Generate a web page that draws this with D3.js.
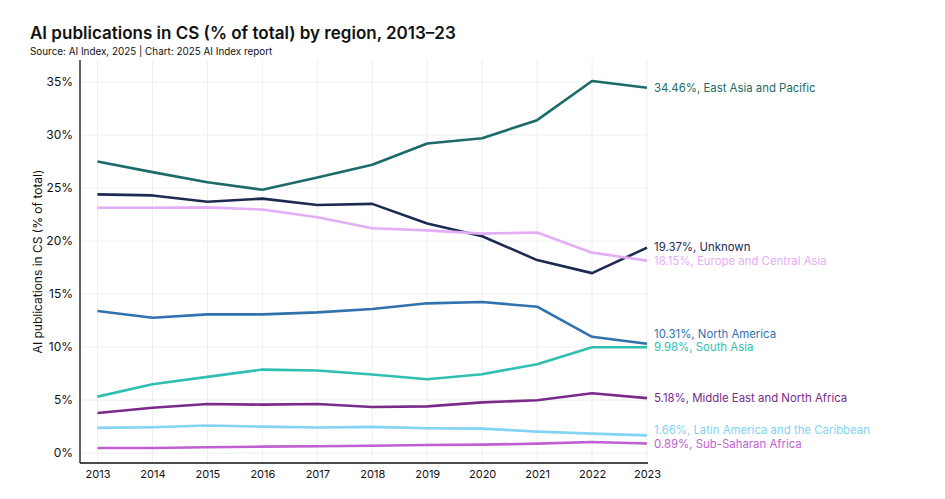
<!DOCTYPE html>
<html>
<head>
<meta charset="utf-8">
<script src="https://cdn.jsdelivr.net/npm/d3@7"></script>
<style>
  body { margin: 0; background: #fff; }
  svg { display: block; font-family: Inter, "Noto Sans", sans-serif; }
</style>
</head>
<body>
<svg id="viz"></svg>
<script>
// ---------------------------
// Data
// ---------------------------

const years = [2013, 2014, 2015, 2016, 2017, 2018, 2019, 2020, 2021, 2022, 2023];

const regions = [
    "East Asia and Pacific",
    "Unknown",
    "Europe and Central Asia",
    "North America",
    "South Asia",
    "Middle East and North Africa",
    "Latin America and the Caribbean",
    "Sub-Saharan Africa"
];

const eastAsia    = [27.5, 26.5, 25.55, 24.83, 26.0, 27.2, 29.2, 29.7, 31.4, 35.1, 34.46];
const unknown     = [24.4, 24.3, 23.7, 24.0, 23.4, 23.5, 21.65, 20.45, 18.2, 16.97, 19.37];
const europe      = [23.14, 23.14, 23.17, 22.97, 22.24, 21.2, 21.0, 20.7, 20.8, 18.9, 18.15];
const northAm     = [13.39, 12.76, 13.08, 13.08, 13.27, 13.58, 14.12, 14.24, 13.8, 10.96, 10.31];
const southAsia   = [5.32, 6.48, 7.18, 7.87, 7.78, 7.4, 6.96, 7.43, 8.38, 9.98, 9.98];
const middleEast  = [3.77, 4.27, 4.62, 4.56, 4.62, 4.34, 4.4, 4.78, 4.97, 5.63, 5.18];
const latinAm     = [2.37, 2.43, 2.59, 2.49, 2.4, 2.46, 2.33, 2.3, 2.02, 1.83, 1.66];
const subSaharan  = [0.47, 0.47, 0.54, 0.6, 0.63, 0.69, 0.76, 0.79, 0.88, 1.04, 0.89];

const seriesValues = [eastAsia, unknown, europe, northAm, southAsia, middleEast, latinAm, subSaharan];

const colors = ["#1c6b68", "#1d2a52", "#e4aef7", "#2f72ae", "#2fbfb1", "#7a2a8a", "#82d3f4", "#bf5fd0"];

const yTicks = [0, 5, 10, 15, 20, 25, 30, 35];

// ---------------------------
// Create SVG
// ---------------------------

const width = 945;
const height = 499;

const svg = d3.select("#viz")
    .attr("width", width)
    .attr("height", height)
    .attr("viewBox", `0 0 ${width} ${height}`);

const plotLeft = 80, plotRight = 648, plotTop = 60, plotBottom = 463;

const x = d3.scaleLinear()
    .domain([2013, 2023])
    .range([97.5, 647]);

const y = d3.scaleLinear()
    .domain([0, 35])
    .range([453, 82]);

// Title

svg.append("text")
    .attr("x", 30)
    .attr("y", 39)
    .attr("font-size", 17)
    .attr("font-weight", 600)
    .attr("fill", "#111")
    .text("AI publications in CS (% of total) by region, 2013–23");

svg.append("text")
    .attr("x", 30)
    .attr("y", 55)
    .attr("font-size", 9.9)
    .attr("fill", "#111")
    .text("Source: AI Index, 2025 | Chart: 2025 AI Index report");

// ---------------------------
// Grid and axes
// ---------------------------

const grid = svg.append("g");

grid.selectAll("line.v")
    .data(years)
    .join("line")
    .attr("class", "v")
    .attr("x1", d => x(d)).attr("x2", d => x(d))
    .attr("y1", plotTop).attr("y2", plotBottom)
    .attr("stroke", "#eceef2")
    .attr("stroke-width", 1);

grid.selectAll("line.h")
    .data(yTicks)
    .join("line")
    .attr("class", "h")
    .attr("x1", plotLeft).attr("x2", plotRight)
    .attr("y1", d => y(d)).attr("y2", d => y(d))
    .attr("stroke", "#eceef2")
    .attr("stroke-width", 1);

const yAxis = svg.append("g")
    .attr("transform", `translate(${plotLeft},0)`)
    .call(d3.axisLeft(y).tickValues(yTicks).tickSize(0).tickPadding(7).tickFormat(d => d + "%"));

yAxis.select(".domain").remove();
yAxis.selectAll("text").attr("font-size", 12).attr("fill", "#111").attr("font-family", "Inter, sans-serif");

svg.append("line")
    .attr("x1", plotLeft).attr("x2", plotLeft)
    .attr("y1", plotTop).attr("y2", plotBottom)
    .attr("stroke", "#111").attr("stroke-width", 1.3);

const xAxis = svg.append("g")
    .attr("transform", `translate(0,${plotBottom})`)
    .call(d3.axisBottom(x).tickValues(years).tickSize(0).tickPadding(7).tickFormat(d3.format("d")));

xAxis.select(".domain").remove();
xAxis.selectAll("text").attr("font-size", 11).attr("fill", "#111").attr("font-family", "Inter, sans-serif");

svg.append("line")
    .attr("x1", plotLeft).attr("x2", plotRight)
    .attr("y1", plotBottom).attr("y2", plotBottom)
    .attr("stroke", "#111").attr("stroke-width", 1.3);

svg.append("text")
    .attr("transform", `translate(42,${(plotTop + plotBottom) / 2}) rotate(-90)`)
    .attr("text-anchor", "middle")
    .attr("font-size", 12)
    .attr("fill", "#111")
    .text("AI publications in CS (% of total)");

// ---------------------------
// Lines
// ---------------------------

const line = d3.line()
    .x((d, i) => x(years[i]))
    .y(d => y(d));

svg.append("g")
    .selectAll("path")
    .data(seriesValues)
    .join("path")
    .attr("d", d => line(d))
    .attr("fill", "none")
    .attr("stroke", (d, i) => colors[i])
    .attr("stroke-width", 2.6)
    .attr("stroke-linejoin", "round");

// ---------------------------
// End labels (simple collision avoidance, bottom up)
// ---------------------------

const labels = regions.map((name, i) => {
    const v = seriesValues[i][seriesValues[i].length - 1];
    return { name, v, color: colors[i], ty: y(v) };
}).sort((a, b) => b.ty - a.ty);

for (let i = 1; i < labels.length; i++) {
    labels[i].ty = Math.min(labels[i].ty, labels[i - 1].ty - 13.5);
}

svg.append("g")
    .selectAll("text")
    .data(labels)
    .join("text")
    .attr("x", x(2023) + 7)
    .attr("y", d => d.ty)
    .attr("dy", "0.35em")
    .attr("font-size", 11.4)
    .attr("fill", d => d.color)
    .text(d => `${d.v.toFixed(2)}%, ${d.name}`);
</script>
</body>
</html>
